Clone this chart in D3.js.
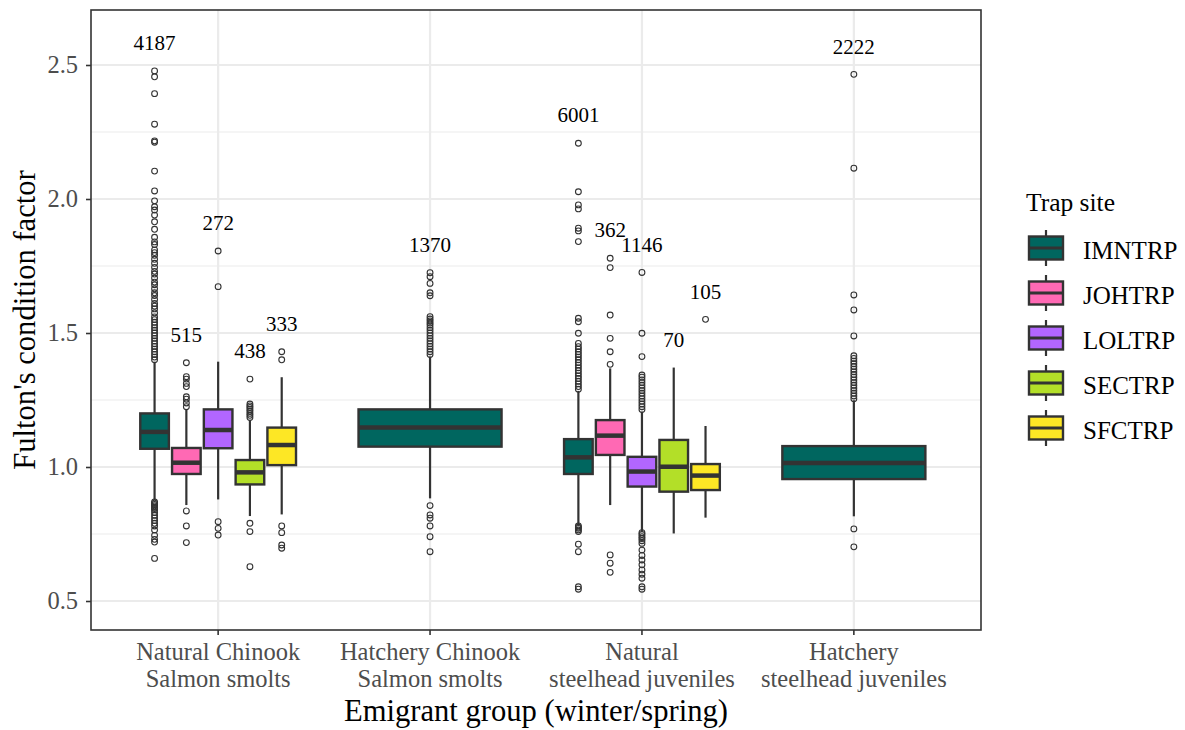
<!DOCTYPE html>
<html>
<head>
<meta charset="utf-8">
<script src="https://cdn.jsdelivr.net/npm/d3@7"></script>
<style>
  body { margin: 0; background: #fff; }
  text { font-family: "Liberation Serif", "Times New Roman", serif; }
</style>
</head>
<body>
<script>
// ----------------------------------------
//  Data
// ----------------------------------------

var groups = ["Natural Chinook Salmon smolts", "Hatchery Chinook Salmon smolts",
              "Natural steelhead juveniles", "Hatchery steelhead juveniles"];
var groupLines = [["Natural Chinook", "Salmon smolts"], ["Hatchery Chinook", "Salmon smolts"],
                  ["Natural", "steelhead juveniles"], ["Hatchery", "steelhead juveniles"]];
var traps = ["IMNTRP", "JOHTRP", "LOLTRP", "SECTRP", "SFCTRP"];
var trapColors = ["#00665F", "#FF69B4", "#B266FF", "#B3DF28", "#FDE725"];
var yTicks = [0.5, 1.0, 1.5, 2.0, 2.5];

// one entry per box
var boxGroup  = [0, 0, 0, 0, 0, 1, 2, 2, 2, 2, 2, 3];
var boxTrap   = [0, 1, 2, 3, 4, 0, 0, 1, 2, 3, 4, 0];
var whiskerLo = [0.877, 0.858, 0.879, 0.817, 0.823, 0.883, 0.784, 0.858, 0.759, 0.752, 0.811, 0.816];
var q1        = [1.068, 0.974, 1.070, 0.935, 1.007, 1.076, 0.974, 1.045, 0.927, 0.908, 0.914, 0.955];
var medians   = [1.131, 1.016, 1.138, 0.980, 1.082, 1.147, 1.036, 1.117, 0.983, 1.001, 0.968, 1.015];
var q3        = [1.200, 1.071, 1.215, 1.026, 1.147, 1.215, 1.104, 1.175, 1.038, 1.101, 1.011, 1.078];
var whiskerHi = [1.393, 1.213, 1.393, 1.175, 1.335, 1.412, 1.284, 1.368, 1.206, 1.371, 1.153, 1.249];
var nFish     = [4187, 515, 272, 438, 333, 1370, 6001, 362, 1146, 70, 105, 2222];
var outliers = [
  [2.478, 2.456, 2.393, 2.279, 2.217, 2.212, 2.104, 2.03, 1.993, 1.971, 1.959, 1.94, 1.915, 1.887, 1.857,
   1.84, 1.83, 1.81, 1.80, 1.79, 1.775, 1.76, 1.745, 1.73, 1.72, 1.705, 1.69, 1.68, 1.665, 1.65, 1.64,
   1.625, 1.61, 1.60, 1.59, 1.575, 1.56, 1.55, 1.54, 1.53, 1.52, 1.51, 1.50, 1.49, 1.48, 1.47, 1.46,
   1.45, 1.44, 1.43, 1.42, 1.41, 1.40,
   0.87, 0.865, 0.86, 0.855, 0.85, 0.845, 0.84, 0.83, 0.82, 0.81, 0.80, 0.79, 0.78, 0.765, 0.745,
   0.73, 0.72, 0.659],
  [1.389, 1.337, 1.328, 1.312, 1.30, 1.262, 1.253, 1.239, 1.225, 0.836, 0.780, 0.718],
  [1.806, 1.673, 0.796, 0.771, 0.746],
  [1.328, 1.235, 1.228, 1.222, 1.215, 1.208, 1.20, 1.193, 1.185, 0.79, 0.759, 0.628],
  [1.430, 1.40, 0.780, 0.755, 0.709, 0.697],
  [1.725, 1.71, 1.685, 1.65, 1.639, 1.561, 1.552, 1.545, 1.537, 1.53, 1.52, 1.51, 1.50, 1.49, 1.48,
   1.47, 1.46, 1.45, 1.44, 1.43, 1.42, 0.856, 0.821, 0.809, 0.780, 0.740, 0.684],
  [2.208, 2.027, 1.978, 1.963, 1.891, 1.881, 1.841, 1.555, 1.542, 1.499, 1.461, 1.449, 1.44, 1.43,
   1.42, 1.41, 1.40, 1.39, 1.38, 1.37, 1.36, 1.35, 1.34, 1.33, 1.32, 1.31, 1.30, 1.29,
   0.78, 0.775, 0.771, 0.765, 0.759, 0.712, 0.684, 0.553, 0.544],
  [1.779, 1.744, 1.567, 1.48, 1.43, 1.383, 0.672, 0.641, 0.607],
  [1.726, 1.499, 1.412, 1.343, 1.335, 1.325, 1.315, 1.305, 1.295, 1.285, 1.275, 1.265, 1.255, 1.245,
   1.235, 1.225, 1.215, 0.755, 0.748, 0.74, 0.733, 0.725, 0.715, 0.69, 0.67, 0.653, 0.635, 0.616,
   0.60, 0.585, 0.553, 0.544],
  [],
  [1.551],
  [2.465, 2.115, 1.642, 1.586, 1.489, 1.415, 1.405, 1.395, 1.385, 1.375, 1.365, 1.355, 1.345, 1.335,
   1.325, 1.315, 1.305, 1.295, 1.285, 1.275, 1.265, 1.255, 0.769, 0.702]
];

// ----------------------------------------
// Sizing and scales
// ----------------------------------------

var W = 1185, H = 730;
var panel = {left: 91, right: 981, top: 10, bottom: 630};
var ink = "#333333";

var svg = d3.select("body").append("svg")
    .attr("width", W)
    .attr("height", H);

var x = d3.scaleBand()
    .domain(groups)
    .range([panel.left, panel.right])
    .paddingInner(0.25)
    .paddingOuter(0.225);

var xTrap = d3.scaleBand()
    .domain(traps)
    .range([0, x.bandwidth()])
    .paddingInner(0.1)
    .paddingOuter(0.05);

var y = d3.scaleLinear()
    .domain([0.3918, 2.7052])
    .range([panel.bottom, panel.top]);

var color = d3.scaleOrdinal().domain(traps).range(trapColors);

// how many traps per group -> single boxes take the whole dodge width
var trapsPerGroup = groups.map(function(g, i) {
  return boxGroup.filter(function(b) { return b === i; }).length;
});

var boxes = nFish.map(function(n, i) {
  var g = groups[boxGroup[i]], t = traps[boxTrap[i]];
  var cx, w;
  if (trapsPerGroup[boxGroup[i]] === 1) {
    cx = x(g) + x.bandwidth() / 2;
    w = x.bandwidth() * 0.9;
  } else {
    cx = x(g) + xTrap(t) + xTrap.bandwidth() / 2;
    w = xTrap.bandwidth();
  }
  return {trap: t, cx: cx, w: w, lo: whiskerLo[i], q1: q1[i], med: medians[i],
          q3: q3[i], hi: whiskerHi[i], n: n, out: outliers[i]};
});

// ----------------------------------------
// Panel and grid
// ----------------------------------------

svg.append("rect")
    .attr("x", panel.left).attr("y", panel.top)
    .attr("width", panel.right - panel.left).attr("height", panel.bottom - panel.top)
    .attr("fill", "#fff");

var minor = [0.75, 1.25, 1.75, 2.25];
svg.append("g").selectAll("line")
    .data(minor).enter().append("line")
    .attr("x1", panel.left).attr("x2", panel.right)
    .attr("y1", function(d) { return y(d); }).attr("y2", function(d) { return y(d); })
    .attr("stroke", "#EBEBEB").attr("stroke-width", 1.2);

svg.append("g").selectAll("line")
    .data(yTicks).enter().append("line")
    .attr("x1", panel.left).attr("x2", panel.right)
    .attr("y1", function(d) { return y(d); }).attr("y2", function(d) { return y(d); })
    .attr("stroke", "#EBEBEB").attr("stroke-width", 2.2);

svg.append("g").selectAll("line")
    .data(groups).enter().append("line")
    .attr("x1", function(d) { return x(d) + x.bandwidth() / 2; })
    .attr("x2", function(d) { return x(d) + x.bandwidth() / 2; })
    .attr("y1", panel.top).attr("y2", panel.bottom)
    .attr("stroke", "#EBEBEB").attr("stroke-width", 2.2);

// ----------------------------------------
// Boxplots
// ----------------------------------------

var bx = svg.append("g").selectAll("g")
    .data(boxes).enter().append("g");

bx.append("line")
    .attr("x1", function(d) { return d.cx; }).attr("x2", function(d) { return d.cx; })
    .attr("y1", function(d) { return y(d.hi); }).attr("y2", function(d) { return y(d.lo); })
    .attr("stroke", ink).attr("stroke-width", 2.2);

bx.append("rect")
    .attr("x", function(d) { return d.cx - d.w / 2; })
    .attr("width", function(d) { return d.w; })
    .attr("y", function(d) { return y(d.q3); })
    .attr("height", function(d) { return y(d.q1) - y(d.q3); })
    .attr("fill", function(d) { return color(d.trap); })
    .attr("stroke", ink).attr("stroke-width", 2.4);

bx.append("line")
    .attr("x1", function(d) { return d.cx - d.w / 2; })
    .attr("x2", function(d) { return d.cx + d.w / 2; })
    .attr("y1", function(d) { return y(d.med); }).attr("y2", function(d) { return y(d.med); })
    .attr("stroke", ink).attr("stroke-width", 4.5);

bx.selectAll("circle")
    .data(function(d) { return d.out.map(function(v) { return {cx: d.cx, v: v}; }); })
    .enter().append("circle")
    .attr("cx", function(d) { return d.cx; })
    .attr("cy", function(d) { return y(d.v); })
    .attr("r", 2.9)
    .attr("fill", "none")
    .attr("stroke", ink).attr("stroke-width", 1.1);

// sample size above each box
bx.append("text")
    .attr("x", function(d) { return d.cx; })
    .attr("y", function(d) { return y(d3.max(d.out.concat([d.hi])) + 0.105); })
    .attr("dy", "0.35em")
    .attr("text-anchor", "middle")
    .attr("font-size", 21)
    .attr("fill", "#000")
    .text(function(d) { return d.n; });

// panel border
svg.append("rect")
    .attr("x", panel.left).attr("y", panel.top)
    .attr("width", panel.right - panel.left).attr("height", panel.bottom - panel.top)
    .attr("fill", "none").attr("stroke", ink).attr("stroke-width", 1.6);

// ----------------------------------------
// Axes
// ----------------------------------------

var yAxis = svg.append("g")
    .attr("transform", "translate(" + panel.left + ",0)")
    .call(d3.axisLeft(y).tickValues(yTicks).tickFormat(d3.format(".1f")).tickSize(5).tickPadding(8));
yAxis.select(".domain").remove();
yAxis.selectAll(".tick line").attr("stroke", ink).attr("stroke-width", 1.6);
yAxis.selectAll(".tick text")
    .attr("font-size", 24.5).attr("fill", "#4D4D4D")
    .attr("font-family", "Liberation Serif, serif");

var xAxis = svg.append("g")
    .attr("transform", "translate(0," + panel.bottom + ")")
    .call(d3.axisBottom(x).tickSize(5).tickFormat(""));
xAxis.select(".domain").remove();
xAxis.selectAll(".tick line").attr("stroke", ink).attr("stroke-width", 1.6);
xAxis.selectAll(".tick text").remove();

var xLab = xAxis.selectAll(".tick").append("text")
    .attr("text-anchor", "middle")
    .attr("font-size", 24.5)
    .attr("fill", "#4D4D4D")
    .attr("font-family", "Liberation Serif, serif");
xLab.selectAll("tspan")
    .data(function(d) { return groupLines[groups.indexOf(d)]; })
    .enter().append("tspan")
    .attr("x", 0)
    .attr("y", function(d, i) { return 30 + i * 27; })
    .text(function(d) { return d; });

// axis titles
svg.append("text")
    .attr("x", (panel.left + panel.right) / 2)
    .attr("y", 721)
    .attr("text-anchor", "middle")
    .attr("font-size", 30.6)
    .text("Emigrant group (winter/spring)");

svg.append("text")
    .attr("transform", "translate(35," + (panel.top + panel.bottom) / 2 + ") rotate(-90)")
    .attr("text-anchor", "middle")
    .attr("font-size", 30.6)
    .text("Fulton's condition factor");

// ----------------------------------------
// Legend
// ----------------------------------------

var legend = svg.append("g");
legend.append("text")
    .attr("x", 1026).attr("y", 211)
    .attr("font-size", 25.5)
    .text("Trap site");

var keys = legend.selectAll(".key")
    .data(traps).enter().append("g")
    .attr("class", "key")
    .attr("transform", function(d, i) { return "translate(1046," + (248 + i * 45) + ")"; });

keys.append("line")
    .attr("y1", -18).attr("y2", 18)
    .attr("stroke", ink).attr("stroke-width", 2.2);
keys.append("rect")
    .attr("x", -17).attr("y", -11.5).attr("width", 34).attr("height", 23)
    .attr("fill", function(d) { return color(d); })
    .attr("stroke", ink).attr("stroke-width", 2.4);
keys.append("line")
    .attr("x1", -17).attr("x2", 17)
    .attr("stroke", ink).attr("stroke-width", 3);
keys.append("text")
    .attr("x", 37).attr("dy", "0.45em")
    .attr("font-size", 25)
    .text(function(d) { return d; });
</script>
</body>
</html>
